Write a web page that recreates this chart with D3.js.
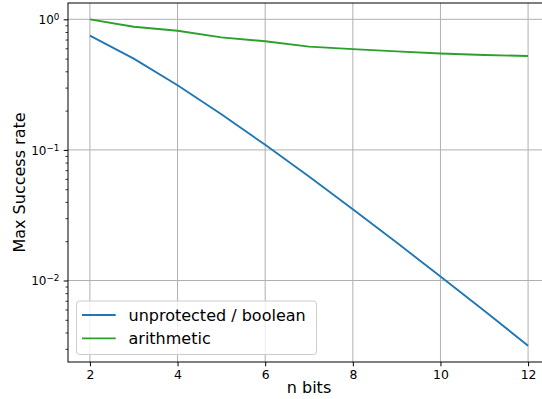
<!DOCTYPE html>
<html>
<head>
<meta charset="utf-8">
<script src="https://cdn.jsdelivr.net/npm/d3@7"></script>
<style>
  html, body { margin: 0; padding: 0; background: #fff; }
  svg { display: block; font-family: "DejaVu Sans", sans-serif; }
</style>
</head>
<body>
<svg id="chart" width="542" height="399"></svg>
<script>
// Number of bits on the x axis
const nBits = [2, 3, 4, 5, 6, 7, 8, 9, 10, 11, 12];
// Maximum success rate per masking scheme
const unprotectedBoolean = [0.75, 0.5, 0.3125, 0.1875, 0.109375, 0.0625, 0.03516, 0.01953, 0.01074, 0.00586, 0.00317];
const arithmetic = [1.0, 0.877, 0.818, 0.728, 0.679, 0.618, 0.592, 0.569, 0.547, 0.533, 0.524];
const seriesNames = ["unprotected / boolean", "arithmetic"];
const seriesColors = ["#1f77b4", "#2ca02c"];
const xTickValues = [2, 4, 6, 8, 10, 12];
const yMajorTicks = [0.01, 0.1, 1];
const yMajorExponents = ["\u22122", "\u22121", "0"];

const svg = d3.select("#chart");
const plotLeft = 68, plotRight = 550, plotTop = 3, plotBottom = 362;

const x = d3.scaleLinear().domain([1.5, 12.5]).range([plotLeft, plotRight]);
const y = d3.scaleLog().domain([0.002377, 1.3335]).range([plotBottom, plotTop]);

// Minor ticks on the log axis: 2..9 times each decade, inside the domain
const yMinorTicks = [];
[0.001, 0.01, 0.1, 1].forEach(d => {
  for (let k = 2; k <= 9; k++) {
    const v = d * k;
    if (v >= y.domain()[0] && v <= y.domain()[1]) yMinorTicks.push(v);
  }
});

svg.append("defs").append("clipPath").attr("id", "plotclip")
  .append("rect").attr("x", plotLeft).attr("y", plotTop)
  .attr("width", plotRight - plotLeft).attr("height", plotBottom - plotTop);

// Grid
const grid = svg.append("g").attr("stroke", "#b0b0b0").attr("stroke-width", 1);
grid.selectAll("line.gx").data(xTickValues).join("line").attr("class", "gx")
  .attr("x1", d => x(d)).attr("x2", d => x(d)).attr("y1", plotTop).attr("y2", plotBottom);
grid.selectAll("line.gy").data(yMajorTicks).join("line").attr("class", "gy")
  .attr("x1", plotLeft).attr("x2", plotRight).attr("y1", d => y(d)).attr("y2", d => y(d));

// Series lines
const line = d3.line().x((d, i) => x(nBits[i])).y(d => y(d));
const plot = svg.append("g").attr("clip-path", "url(#plotclip)");
[unprotectedBoolean, arithmetic].forEach((vals, i) => {
  plot.append("path").datum(vals)
    .attr("d", line)
    .attr("fill", "none")
    .attr("stroke", seriesColors[i])
    .attr("stroke-width", 1.85)
    .attr("stroke-linejoin", "round")
    .attr("stroke-linecap", "butt");
});

// Spines
svg.append("rect").attr("x", plotLeft).attr("y", plotTop)
  .attr("width", plotRight - plotLeft).attr("height", plotBottom - plotTop)
  .attr("fill", "none").attr("stroke", "#000").attr("stroke-width", 1);

// X axis
const xAxis = d3.axisBottom(x).tickValues(xTickValues).tickSize(4.3).tickPadding(4.3).tickFormat(d3.format("d"));
const gx = svg.append("g").attr("transform", `translate(0,${plotBottom})`).call(xAxis);
gx.select(".domain").remove();
gx.selectAll("line").attr("stroke", "#000").attr("stroke-width", 1);
gx.selectAll("text").attr("font-size", "12.4px").attr("fill", "#000")
  .attr("font-family", "DejaVu Sans, sans-serif").attr("dy", null).attr("y", 17.3);

// Y axis: minor ticks
const gyMinor = svg.append("g").attr("transform", `translate(${plotLeft},0)`)
  .call(d3.axisLeft(y).tickValues(yMinorTicks).tickSize(2.5).tickFormat(""));
gyMinor.select(".domain").remove();
gyMinor.selectAll("line").attr("stroke", "#000").attr("stroke-width", 0.8);

// Y axis: major ticks with power-of-ten labels
const gy = svg.append("g").attr("transform", `translate(${plotLeft},0)`)
  .call(d3.axisLeft(y).tickValues(yMajorTicks).tickSize(4.3).tickFormat(""));
gy.select(".domain").remove();
gy.selectAll("line").attr("stroke", "#000").attr("stroke-width", 1);

const ylab = svg.append("g");
yMajorTicks.forEach((v, i) => {
  const t = ylab.append("text")
    .attr("x", plotLeft - 8.6).attr("y", y(v) + 4.8)
    .attr("text-anchor", "end").attr("font-size", "12px").attr("fill", "#000");
  t.append("tspan").text("10");
  t.append("tspan").attr("font-size", "8.8px").attr("dy", -4.2).text(yMajorExponents[i]);
});

// Axis titles
svg.append("text").attr("x", (plotLeft + plotRight) / 2).attr("y", 393.3)
  .attr("text-anchor", "middle").attr("font-size", "16px").attr("fill", "#000").text("n bits");
svg.append("text").attr("transform", `translate(24.8,${(plotTop + plotBottom) / 2}) rotate(-90)`)
  .attr("text-anchor", "middle").attr("font-size", "16px").attr("fill", "#000").text("Max Success rate");

// Legend
const lg = svg.append("g");
lg.append("rect").attr("x", 76.5).attr("y", 301).attr("width", 240).attr("height", 53.5)
  .attr("rx", 3).attr("fill", "#fff").attr("fill-opacity", 0.8)
  .attr("stroke", "#cccccc").attr("stroke-width", 1);
seriesNames.forEach((name, i) => {
  const cy = 315 + i * 23.3;
  lg.append("line").attr("x1", 82).attr("x2", 115.7).attr("y1", cy).attr("y2", cy)
    .attr("stroke", seriesColors[i]).attr("stroke-width", 1.85);
  lg.append("text").attr("x", 128.5).attr("y", cy + 6).attr("font-size", "16px").attr("fill", "#000").text(name);
});
</script>
</body>
</html>
